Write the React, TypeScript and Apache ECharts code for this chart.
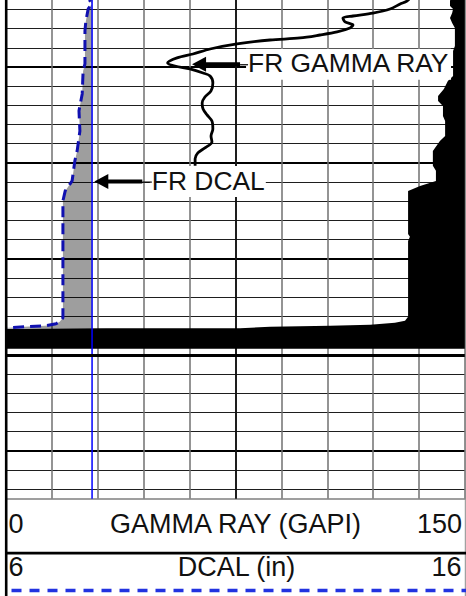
import React, { useEffect, useRef } from "react";
import * as echarts from "echarts";

// ---- scales / titles ----
const grScale = [0, 150];
const dcalScale = [6, 16];
const depthScale = [5060, 5115];
const grTitle = "GAMMA RAY (GAPI)";
const dcalTitle = "DCAL (in)";
const bitSize = 7.875;

// ---- FR GAMMA RAY curve (GAPI vs depth ft) ----
const grDepth = [5062.2, 5063.13, 5063.44, 5063.96, 5064.38, 5064.69, 5064.9, 5065.31, 5065.63, 5065.94, 5066.35, 5066.67, 5066.98, 5067.19, 5067.6, 5068.13, 5068.65, 5069.06, 5069.58, 5069.9, 5070.21, 5070.63, 5070.94, 5071.67, 5072.5, 5073.13, 5073.75, 5074.38, 5075.0, 5075.63, 5076.46, 5077.19, 5077.81, 5078.44, 5078.96, 5079.58, 5080.31];
const grValue = [134, 131.0, 128.8, 125.5, 119.9, 113.4, 110.1, 110.8, 113.4, 112.4, 108.2, 102.6, 96.1, 86.3, 75.5, 66.7, 61.1, 55.9, 52.8, 55.2, 60.1, 64.4, 66.7, 67.6, 67.0, 65.0, 64.1, 64.4, 65.7, 67.3, 67.6, 67.0, 67.3, 65.0, 62.7, 61.8, 61.8];

// ---- FR DCAL curve (in vs depth ft) ----
const dcalDepth = [5062.08, 5063.13, 5063.44, 5063.96, 5065.21, 5066.25, 5069.69, 5070.42, 5072.81, 5074.58, 5076.67, 5078.75, 5079.79, 5081.88, 5082.92, 5083.96, 5096.15, 5096.56, 5096.77, 5096.98, 5097.08, 5097.19];
const dcalValue = [7.8, 7.83, 7.87, 7.79, 7.74, 7.72, 7.72, 7.68, 7.66, 7.59, 7.61, 7.55, 7.5, 7.44, 7.29, 7.24, 7.24, 7.17, 7.09, 6.85, 6.4, 6.0];

// ---- black shading on the gamma-ray track (left edge, GAPI vs depth ft) ----
const shadeDepth = [5062.08, 5063.13, 5063.65, 5063.96, 5064.38, 5064.9, 5065.42, 5065.94, 5067.81, 5068.33, 5070.94, 5071.46, 5072.29, 5073.02, 5073.54, 5074.06, 5075.1, 5075.63, 5077.19, 5077.71, 5078.75, 5080.31, 5080.83, 5081.88, 5082.4, 5082.92, 5087.4, 5087.71, 5088.13, 5096.04, 5096.46, 5096.67, 5096.88, 5096.98, 5097.08, 5097.24, 5097.24, 5097.29, 5099.38];
const shadeValue = [145.8, 145.1, 145.1, 146.1, 145.8, 145.1, 145.8, 146.7, 146.7, 146.1, 146.1, 144.4, 143.1, 141.2, 141.2, 142.8, 142.8, 143.5, 143.5, 141.8, 139.5, 139.5, 140.5, 140.5, 135.3, 131.4, 131.4, 132.0, 131.4, 131.4, 130.4, 127.1, 119.0, 105.9, 86.3, 76.5, 33.0, 0, 0];

// ---- annotations (anchor in data units) ----
const grNote = { text: "FR GAMMA RAY", value: 60.8, depth: 5069.72 };
const dcalNote = { text: "FR DCAL", value: 7.924, depth: 5081.95 };

const pairs = (xs: number[], ys: number[]) =>
  ys.slice(0, Math.min(xs.length, ys.length)).map((y, i) => [xs[i], y]);

const FONT = '27px "Liberation Sans", Arial, sans-serif';
const NOTE_FONT = '26.4px "Liberation Sans", Arial, sans-serif';
const OFF = 29.3; // chart canvas starts above the visible page (log is cropped at the top)

export default function App() {
  const ref = useRef<HTMLDivElement>(null);

  useEffect(() => {
    if (!ref.current) return;
    const chart = echarts.init(ref.current, null, { renderer: "svg" });

    const grData = pairs(grValue, grDepth);
    const dcalData = pairs(dcalValue, dcalDepth);
    const shadeData = pairs(shadeValue, shadeDepth);

    const option: any = {
      animation: false,
      grid: { left: 6, right: 1, top: 0, bottom: 97.3, containLabel: false },
      xAxis: [
        {
          type: "value",
          min: grScale[0],
          max: grScale[1],
          interval: 15,
          position: "bottom",
          axisLine: { show: true, onZero: false, lineStyle: { color: "#808080", width: 1.5 } },
          axisTick: { show: false },
          axisLabel: { show: false },
          splitLine: { show: true, lineStyle: { color: "#707070", width: 1.5 } },
        },
        {
          type: "value",
          min: dcalScale[0],
          max: dcalScale[1],
          position: "top",
          axisLine: { show: false },
          axisTick: { show: false },
          axisLabel: { show: false },
          splitLine: { show: false },
        },
      ],
      yAxis: [
        {
          type: "value",
          inverse: true,
          min: depthScale[0],
          max: depthScale[1],
          interval: 2,
          position: "left",
          axisLine: { show: false },
          axisTick: { show: false },
          axisLabel: { show: false },
          splitLine: { show: true, showMaxLine: false, lineStyle: { color: "#1e1e1e", width: 1 } },
        },
        {
          type: "value",
          inverse: true,
          min: depthScale[0],
          max: depthScale[1],
          interval: 10,
          position: "right",
          axisLine: { show: false },
          axisTick: { show: false },
          axisLabel: { show: false },
          splitLine: { show: true, showMaxLine: false, lineStyle: { color: "#000", width: 2 } },
        },
      ],
      series: [
        {
          type: "custom",
          name: "shade",
          xAxisIndex: 0,
          yAxisIndex: 0,
          z: 1,
          silent: true,
          clip: true,
          data: [[75, 5080]],
          renderItem: (_p: any, api: any) => {
            const pts = shadeData.map((d) => api.coord(d));
            const last = shadeDepth[shadeDepth.length - 1];
            pts.push(api.coord([grScale[1], last]));
            pts.push(api.coord([grScale[1], shadeDepth[0]]));
            return { type: "polygon", shape: { points: pts }, style: { fill: "#000" } };
          },
        },
        {
          type: "custom",
          name: "dcalFill",
          xAxisIndex: 1,
          yAxisIndex: 0,
          z: 2,
          silent: true,
          clip: true,
          data: [[8, 5080]],
          renderItem: (_p: any, api: any) => {
            const pts = dcalData.map((d) => api.coord(d));
            pts.push(api.coord([bitSize, dcalDepth[dcalDepth.length - 1] + 0.1]));
            pts.push(api.coord([bitSize, dcalDepth[0]]));
            return { type: "polygon", shape: { points: pts }, style: { fill: "rgba(0,0,0,0.38)" } };
          },
        },
        {
          type: "line",
          name: "BIT",
          xAxisIndex: 1,
          yAxisIndex: 0,
          z: 3,
          symbol: "none",
          silent: true,
          data: [
            [bitSize, depthScale[0]],
            [bitSize, depthScale[1]],
          ],
          lineStyle: { color: "#0000ff", width: 1.5 },
        },
        {
          type: "line",
          name: "FR DCAL",
          xAxisIndex: 1,
          yAxisIndex: 0,
          z: 4,
          symbol: "none",
          silent: true,
          data: dcalData,
          lineStyle: { color: "#1010b0", width: 3, type: [11, 6] },
        },
        {
          type: "line",
          name: "FR GAMMA RAY",
          xAxisIndex: 0,
          yAxisIndex: 0,
          z: 5,
          symbol: "none",
          silent: true,
          smooth: 0.3,
          data: grData,
          lineStyle: { color: "#000", width: 2.8 },
          markLine: {
            silent: true,
            symbol: "none",
            label: { show: false },
            data: [
              { xAxis: (grScale[0] + grScale[1]) / 2, lineStyle: { color: "#000", width: 1.6, type: "solid" } },
              { yAxis: 5100, lineStyle: { color: "#000", width: 3, type: "solid" } },
            ],
          },
        },
      ],
    };

    chart.setOption(option);

    const g: any[] = [];
    const Y = (y: number) => y + OFF;
    // borders
    g.push({ type: "line", z: 100, shape: { x1: 6.2, y1: 0, x2: 6.2, y2: Y(596) }, style: { stroke: "#000", lineWidth: 2.6 } });
    g.push({ type: "line", z: 100, shape: { x1: 465.3, y1: 0, x2: 465.3, y2: Y(596) }, style: { stroke: "#8a8a8a", lineWidth: 1 } });
    g.push({ type: "line", z: 100, shape: { x1: 6, y1: Y(552.8), x2: 466, y2: Y(552.8) }, style: { stroke: "#000", lineWidth: 2.6 } });
    g.push({ type: "line", z: 100, shape: { x1: 11.5, y1: Y(590.3), x2: 466, y2: Y(590.3) }, style: { stroke: "#2233e0", lineWidth: 3.5, lineDash: [10, 8] } });

    const txt = (x: number, y: number, text: string, align: string, font = FONT) => ({
      type: "text",
      z: 101,
      x,
      y,
      style: {
        text,
        font,
        fill: "#111",
        textAlign: align,
        textVerticalAlign: "middle",
        align,
        verticalAlign: "middle",
      },
    });
    g.push(txt(8.5, Y(523.3), String(grScale[0]), "left"));
    g.push(txt(235.5, Y(523.3), grTitle, "center"));
    g.push(txt(462, Y(523.3), String(grScale[1]), "right"));
    g.push(txt(8.5, Y(566.7), String(dcalScale[0]), "left"));
    g.push(txt(236.5, Y(566.7), dcalTitle, "center"));
    g.push(txt(461.5, Y(566.7), String(dcalScale[1]), "right"));

    const note = (tip: number[], text: string, boxW: number, textOff: number) => {
      const [tx, ty] = tip;
      g.push({ type: "rect", z: 100, shape: { x: tx + textOff - 2, y: ty - 15.5, width: boxW, height: 31 }, style: { fill: "#fff" } });
      g.push({ type: "polygon", z: 102, shape: { points: [[tx, ty], [tx + 14, ty - 7.5], [tx + 14, ty + 7.5]] }, style: { fill: "#000" } });
      g.push({ type: "rect", z: 102, shape: { x: tx + 13, y: ty - 2, width: 35, height: 4 }, style: { fill: "#000" } });
      g.push({ type: "line", z: 102, shape: { x1: tx + 48, y1: ty + 0.5, x2: tx + textOff, y2: ty + 0.5 }, style: { stroke: "#000", lineWidth: 1.2 } });
      g.push({ ...txt(tx + textOff, ty - 0.8, text, "left", NOTE_FONT), z: 103 });
    };
    const grTip = chart.convertToPixel({ xAxisIndex: 0, yAxisIndex: 0 }, [grNote.value, grNote.depth]) as number[];
    const dcTip = chart.convertToPixel({ xAxisIndex: 1, yAxisIndex: 0 }, [dcalNote.value, dcalNote.depth]) as number[];
    note(grTip, grNote.text, 205, 56);
    note(dcTip, dcalNote.text, 116, 57.5);

    chart.setOption({ graphic: g });

    return () => chart.dispose();
  }, []);

  return (
    <div
      ref={ref}
      style={{ position: "fixed", left: 0, top: -OFF, width: 466, height: 596 + OFF, background: "#fff" }}
    />
  );
}
